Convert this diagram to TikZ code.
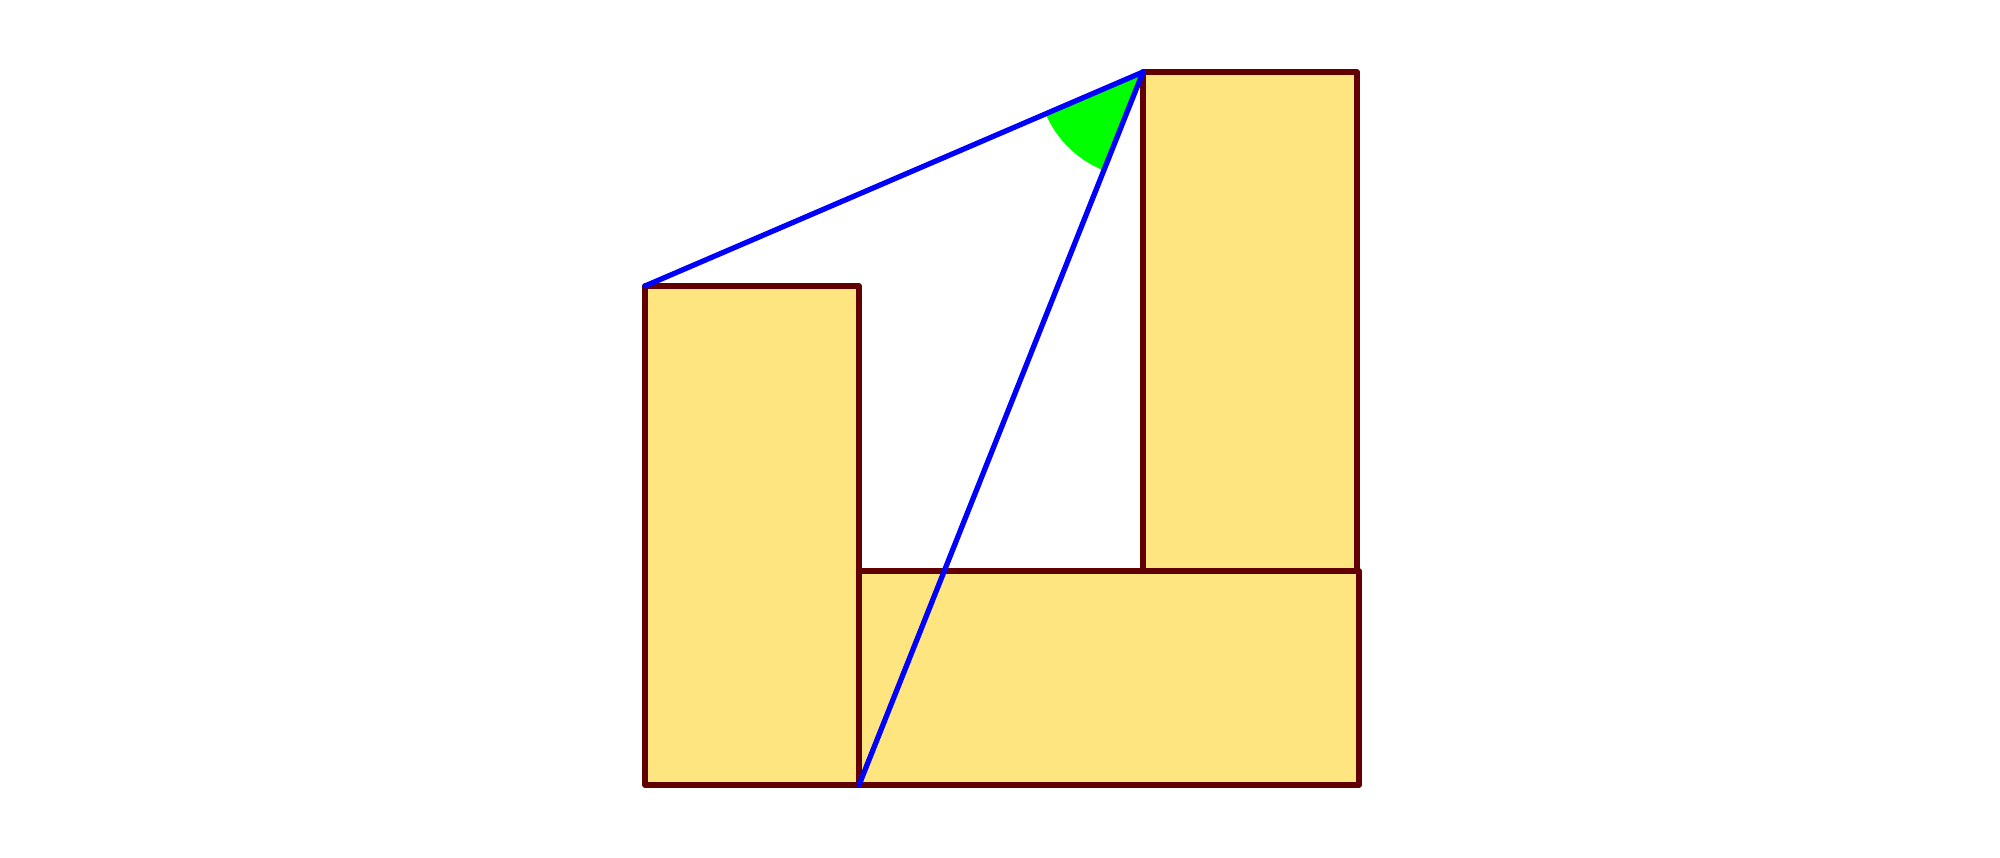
\documentclass[tikz,border=0pt]{standalone}
\begin{document}
\begin{tikzpicture}[x=0.01cm,y=-0.01cm,
  rectfill/.style={fill=rectyellow,draw=edgered,line width=1.5pt,line join=round},
  blueline/.style={draw=blue,line width=1.5pt,line cap=round},
  anglefill/.style={fill=anglegreen}]
\definecolor{rectyellow}{RGB}{255,229,128}
\definecolor{edgered}{RGB}{96,0,0}
\definecolor{anglegreen}{RGB}{0,255,0}
\useasboundingbox (0,0) rectangle (2000,857);
% corner points
\coordinate (A) at (645,286);
\coordinate (B) at (859,286);
\coordinate (C) at (859,785);
\coordinate (D) at (645,785);
\coordinate (E) at (1359,785);
\coordinate (F) at (1359,571);
\coordinate (G) at (859,571);
\coordinate (P) at (1143,72);
\coordinate (Q) at (1357,72);
\coordinate (R) at (1357,571);
\coordinate (S) at (1143,571);
% rectangles
\path[rectfill] (A) -- (B) -- (C) -- (D) -- cycle;
\path[rectfill] (G) -- (F) -- (E) -- (C) -- cycle;
\path[rectfill] (P) -- (Q) -- (R) -- (S) -- cycle;
% angle sector
\path[anglefill] (P) -- ++(156.75:106) arc[start angle=156.75,end angle=111.7,radius=106] -- cycle;
% blue lines
\draw[blueline] (A) -- (P);
\draw[blueline] (P) -- (C);
\end{tikzpicture}
\end{document}
